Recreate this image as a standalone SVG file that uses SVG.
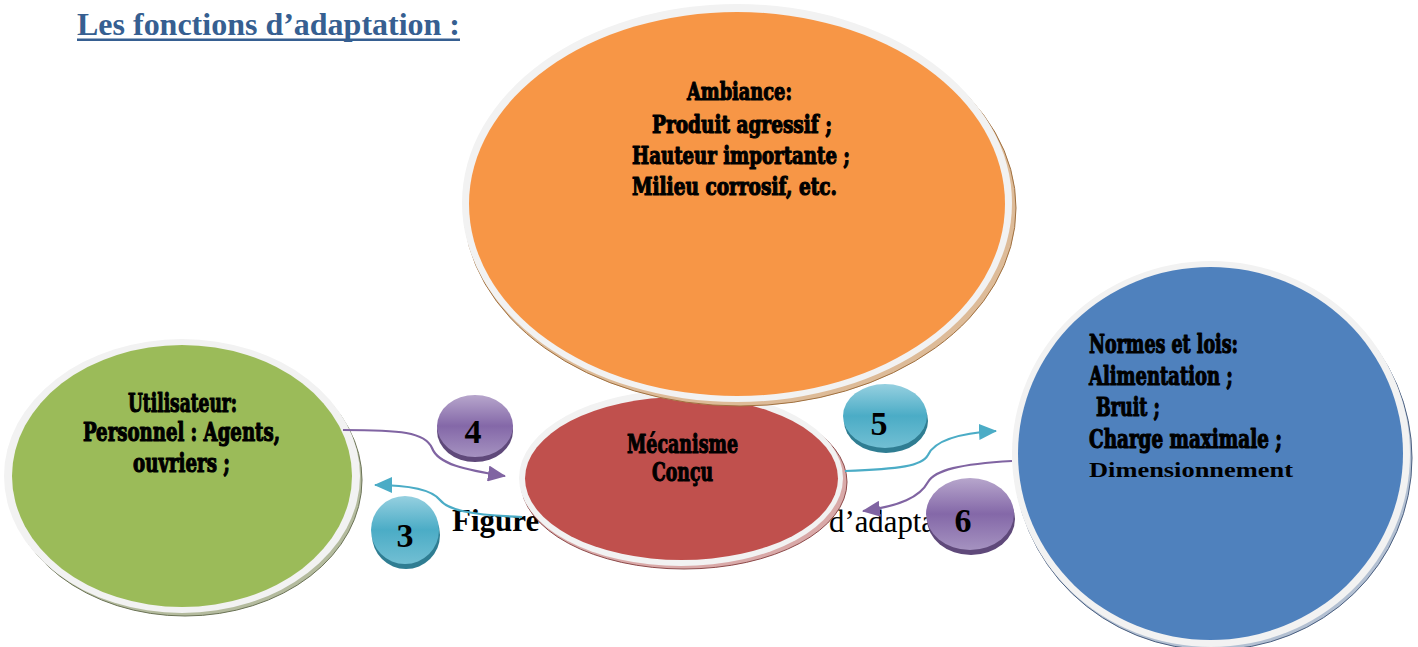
<svg xmlns="http://www.w3.org/2000/svg" width="1418" height="647" viewBox="0 0 1418 647">
  <defs>
    <style>
      .rim { fill: #f2f2f2; }
      .lbl { font-family: "DejaVu Serif Condensed", "DejaVu Serif", "Liberation Serif", serif; font-weight: bold; fill: #000; stroke: #000; stroke-width: 1.1; stroke-linejoin: round; }
      .num { font-family: "Liberation Serif", "Times New Roman", serif; font-weight: bold; font-size: 34px; fill: #000; text-anchor: middle; }
      .cap { font-family: "Liberation Serif", "Times New Roman", serif; font-size: 31px; fill: #000; }
      .link { fill: none; stroke-width: 2.2; }
      .purple { stroke: #8064a2; }
      .cyan { stroke: #4bacc6; }
    </style>
    <linearGradient id="gPurple" x1="0" y1="0" x2="0" y2="1">
      <stop offset="0" stop-color="#b7a6cc"/>
      <stop offset="0.5" stop-color="#8468a8"/>
      <stop offset="1" stop-color="#a592c0"/>
    </linearGradient>
    <linearGradient id="gCyan" x1="0" y1="0" x2="0" y2="1">
      <stop offset="0" stop-color="#96d0e0"/>
      <stop offset="0.5" stop-color="#4bacc6"/>
      <stop offset="1" stop-color="#72bfd3"/>
    </linearGradient>
    <marker id="arrPurple" viewBox="0 0 18 16" refX="17" refY="8" markerWidth="18" markerHeight="16" markerUnits="userSpaceOnUse" orient="auto">
      <path d="M0,0 L18,8 L0,16 Z" fill="#8064a2"/>
    </marker>
    <marker id="arrCyan" viewBox="0 0 18 16" refX="17" refY="8" markerWidth="18" markerHeight="16" markerUnits="userSpaceOnUse" orient="auto">
      <path d="M0,0 L18,8 L0,16 Z" fill="#4bacc6"/>
    </marker>
  </defs>

  <rect width="1418" height="647" fill="#ffffff"/>

  <!-- heading -->
  <g id="title">
    <text x="77" y="35" font-family="Liberation Serif, Times New Roman, serif" font-weight="bold" font-size="32" fill="#365f91" textLength="383" lengthAdjust="spacingAndGlyphs">Les fonctions d’adaptation :</text>
    <rect x="77" y="38.5" width="383" height="2.5" fill="#365f91"/>
  </g>

  <!-- caption partly hidden behind the shapes -->
  <g id="caption">
    <text class="cap" x="452" y="531" font-size="32" font-weight="bold">Figure</text>
    <text class="cap" x="829" y="532" textLength="106" lengthAdjust="spacingAndGlyphs">d’adapta</text>
  </g>

  <!-- Mécanisme conçu -->
  <g id="node-mecanisme">
    <ellipse cx="684" cy="482" rx="163" ry="87" fill="#d9a9a8" stroke="#8d4a4a" stroke-width="1"/>
    <ellipse class="rim" cx="681" cy="478" rx="162" ry="88"/>
    <ellipse cx="681.5" cy="478.5" rx="156.5" ry="81.5" fill="#c0504d"/>
    <text class="lbl" x="627" y="453" font-size="26" textLength="111" lengthAdjust="spacingAndGlyphs">Mécanisme</text>
    <text class="lbl" x="652" y="481" font-size="26" textLength="61" lengthAdjust="spacingAndGlyphs">Conçu</text>
  </g>

  <!-- Ambiance -->
  <g id="node-ambiance">
    <ellipse cx="740" cy="208" rx="276" ry="198" fill="#ddbb98" stroke="#a0703f" stroke-width="1"/>
    <ellipse class="rim" cx="737" cy="203" rx="275" ry="199"/>
    <ellipse cx="737" cy="204" rx="268" ry="192" fill="#f79646"/>
    <text class="lbl" x="687" y="100" font-size="24" textLength="105" lengthAdjust="spacingAndGlyphs">Ambiance:</text>
    <text class="lbl" x="652" y="133" font-size="24" textLength="180" lengthAdjust="spacingAndGlyphs">Produit agressif ;</text>
    <text class="lbl" x="632" y="164" font-size="24" textLength="218" lengthAdjust="spacingAndGlyphs">Hauteur importante ;</text>
    <text class="lbl" x="632" y="195" font-size="24" textLength="205" lengthAdjust="spacingAndGlyphs">Milieu corrosif, etc.</text>
  </g>

  <!-- Utilisateur -->
  <g id="node-utilisateur">
    <ellipse cx="185" cy="480" rx="177" ry="136" fill="#b4bb9e" stroke="#6b7356" stroke-width="1"/>
    <ellipse class="rim" cx="182" cy="476" rx="178" ry="137"/>
    <ellipse cx="182" cy="476" rx="170" ry="131" fill="#9bbb59"/>
    <text class="lbl" x="128" y="412" font-size="26" textLength="109" lengthAdjust="spacingAndGlyphs">Utilisateur:</text>
    <text class="lbl" x="83" y="441" font-size="26" textLength="197" lengthAdjust="spacingAndGlyphs">Personnel : Agents,</text>
    <text class="lbl" x="133" y="472" font-size="26" textLength="97" lengthAdjust="spacingAndGlyphs">ouvriers ;</text>
  </g>

  <!-- Normes et lois -->
  <g id="node-normes">
    <ellipse cx="1213" cy="458" rx="199" ry="192" fill="#b3c0d2" stroke="#4a5f80" stroke-width="1"/>
    <ellipse class="rim" cx="1211" cy="454" rx="199" ry="193"/>
    <ellipse cx="1210.5" cy="453.5" rx="192.5" ry="186.5" fill="#4f81bd"/>
    <text class="lbl" x="1089" y="353" font-size="26" textLength="149" lengthAdjust="spacingAndGlyphs">Normes et lois:</text>
    <text class="lbl" x="1089" y="385" font-size="26" textLength="144" lengthAdjust="spacingAndGlyphs">Alimentation ;</text>
    <text class="lbl" x="1096" y="416" font-size="26" textLength="64" lengthAdjust="spacingAndGlyphs">Bruit ;</text>
    <text class="lbl" x="1089" y="448" font-size="26" textLength="193" lengthAdjust="spacingAndGlyphs">Charge maximale ;</text>
    <text x="1089" y="477" font-family="Liberation Serif, Times New Roman, serif" font-weight="bold" font-size="22" fill="#000" textLength="204" lengthAdjust="spacingAndGlyphs">Dimensionnement</text>
  </g>

  <!-- connectors -->
  <g id="connectors">
    <path class="link purple" d="M343,430 C400,430 425,432 432,448 C438,464 465,470 505,476" marker-end="url(#arrPurple)"/>
    <path class="link cyan" d="M522,517 C470,515 448,510 440,500 C432,490 410,485 375,485" marker-end="url(#arrCyan)"/>
    <path class="link cyan" d="M845,471 C900,469 922,466 928,455 C935,440 960,433 996,431" marker-end="url(#arrCyan)"/>
    <path class="link purple" d="M1012,461 C960,464 935,470 928,482 C920,497 900,506 863,511" marker-end="url(#arrPurple)"/>
  </g>

  <!-- numbered badges -->
  <g id="badge-4">
    <ellipse cx="475" cy="431" rx="38" ry="31" fill="#5f497a"/>
    <ellipse cx="475" cy="426" rx="38" ry="31" fill="url(#gPurple)"/>
    <text class="num" x="473" y="443">4</text>
  </g>
  <g id="badge-3">
    <ellipse cx="406" cy="535" rx="34" ry="34" fill="#2f7d92"/>
    <ellipse cx="405" cy="530" rx="34" ry="34" fill="url(#gCyan)"/>
    <text class="num" x="405" y="547">3</text>
  </g>
  <g id="badge-5">
    <ellipse cx="886" cy="421" rx="42" ry="32" fill="#2f7d92"/>
    <ellipse cx="885" cy="416" rx="42" ry="32" fill="url(#gCyan)"/>
    <text class="num" x="879" y="435">5</text>
  </g>
  <g id="badge-6">
    <ellipse cx="971" cy="519" rx="44" ry="36" fill="#5f497a"/>
    <ellipse cx="970" cy="514" rx="44" ry="36" fill="url(#gPurple)"/>
    <text class="num" x="963" y="532">6</text>
  </g>
</svg>
